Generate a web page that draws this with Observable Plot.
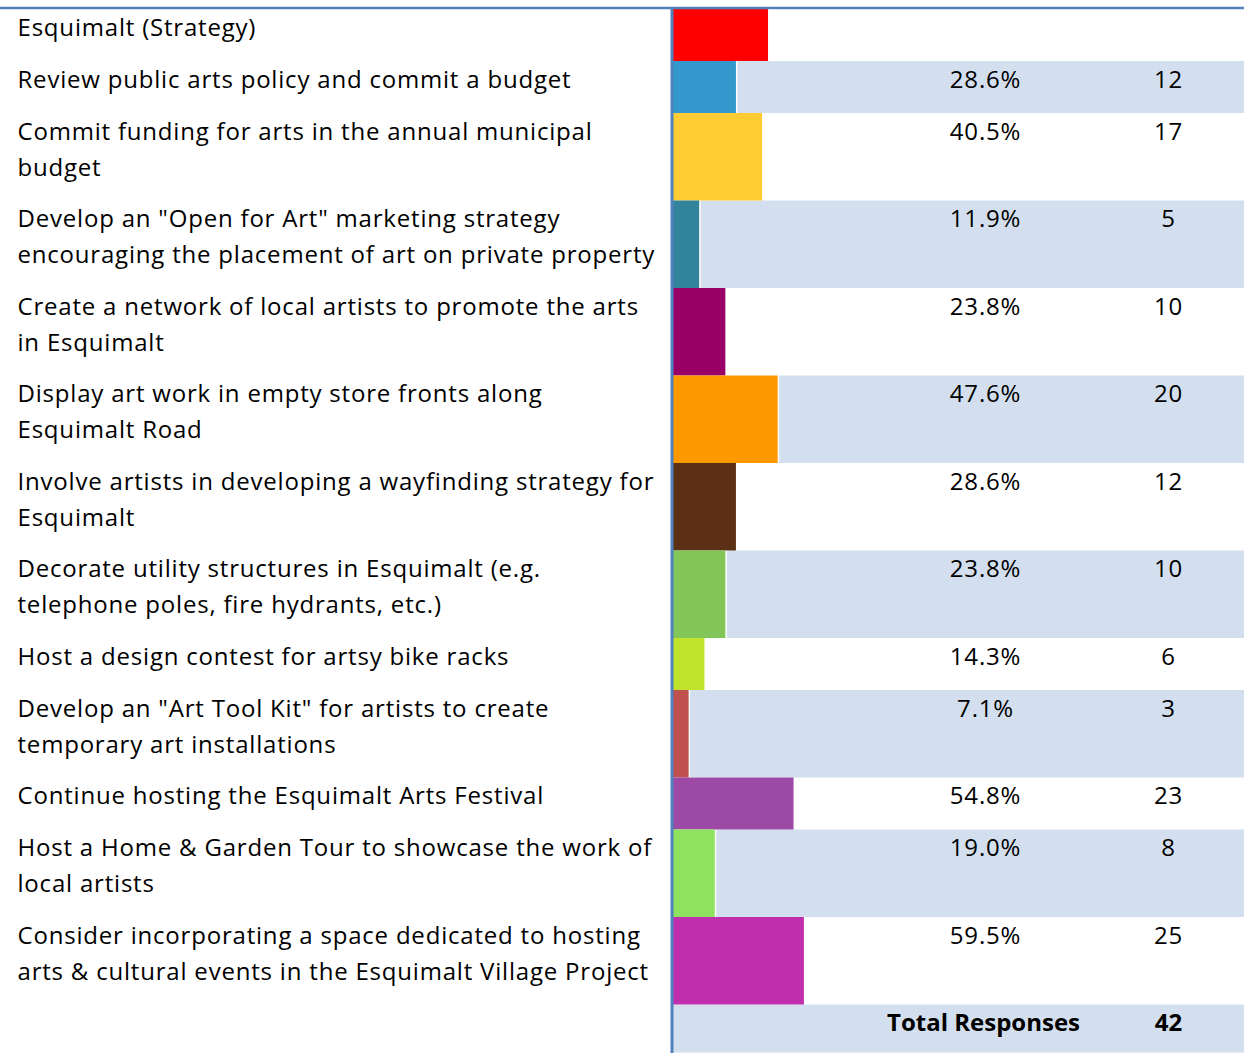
<!DOCTYPE html>
<html>
<head>
<meta charset="utf-8">
<script src="https://cdn.jsdelivr.net/npm/d3@7"></script>
<script src="https://cdn.jsdelivr.net/npm/@observablehq/plot@0.6"></script>
<style>
  html, body { margin: 0; padding: 0; background: #fff; }
  #chart svg { display: block; }
  #chart svg text { letter-spacing: 0.8px; }
  #chart svg g[font-weight="bold"] text, #chart svg text[font-weight="bold"] { letter-spacing: 0px; }
</style>
</head>
<body>
<div id="chart"></div>
<script>
// ---- data ----
const headerLabel = "Esquimalt (Strategy)";
const headerBar = 43.2;
const headerColor = "#FF0000";

const labels = [
  "Review public arts policy and commit a budget",
  "Commit funding for arts in the annual municipal\nbudget",
  "Develop an \"Open for Art\" marketing strategy\nencouraging the placement of art on private property",
  "Create a network of local artists to promote the arts\nin Esquimalt",
  "Display art work in empty store fronts along\nEsquimalt Road",
  "Involve artists in developing a wayfinding strategy for\nEsquimalt",
  "Decorate utility structures in Esquimalt (e.g.\ntelephone poles, fire hydrants, etc.)",
  "Host a design contest for artsy bike racks",
  "Develop an \"Art Tool Kit\" for artists to create\ntemporary art installations",
  "Continue hosting the Esquimalt Arts Festival",
  "Host a Home & Garden Tour to showcase the work of\nlocal artists",
  "Consider incorporating a space dedicated to hosting\narts & cultural events in the Esquimalt Village Project"
];
const percents = [28.6, 40.5, 11.9, 23.8, 47.6, 28.6, 23.8, 14.3, 7.1, 54.8, 19.0, 59.5];
const counts = [12, 17, 5, 10, 20, 12, 10, 6, 3, 23, 8, 25];
const colors = ["#3399CC", "#FFCC33", "#31849B", "#990066", "#FF9900", "#5C3014",
                "#82C65A", "#C0E42C", "#C0504D", "#9C4AA5", "#8DE35E", "#C02EAE"];
const totalLabel = "Total Responses";
const totalCount = 42;

// ---- layout (derived from label line counts) ----
const W = 1244, H = 1053;
const top0 = 9;
const rowH = n => 16.5 + 35.5 * n;
const totalRowH = 48;
const barStart = 673, pxPerPct = 2.2;
const xEnd = (W - barStart) / pxPerPct;

let cursor = top0;
const header = {label: headerLabel, value: headerBar, color: headerColor, y1: cursor, y2: cursor + rowH(1)};
cursor = header.y2;
const rows = labels.map((label, i) => {
  const n = label.split("\n").length;
  const r = {label, value: percents[i], pct: percents[i].toFixed(1) + "%", count: String(counts[i]),
             color: colors[i], band: i % 2 === 0, y1: cursor, y2: cursor + rowH(n)};
  cursor = r.y2;
  return r;
});
const totalRow = {label: totalLabel, count: String(totalCount), y1: cursor, y2: cursor + totalRowH};

const allBars = [header, ...rows];
const banded = rows.filter(r => r.band);

const fs = 24;
const textOpts = {frameAnchor: "left", lineAnchor: "top", fontSize: fs, lineHeight: 35.8 / fs, fill: "#000", dy: 1};

const chart = Plot.plot({
  width: W,
  height: H,
  margin: 0,
  style: {fontFamily: "'Open Sans', sans-serif", background: "#fff"},
  x: {domain: [0, 100], range: [barStart, barStart + 100 * pxPerPct], axis: null},
  y: {type: "identity", axis: null},
  marks: [
    // banding
    Plot.rect(banded, {x1: "value", x2: () => xEnd, y1: "y1", y2: "y2", fill: "#D3DFEE", insetLeft: 1.5}),
    Plot.rect([totalRow], {x1: () => 0, x2: () => xEnd, y1: "y1", y2: "y2", fill: "#D3DFEE"}),
    // bars
    Plot.rect(allBars, {x1: () => 0, x2: "value", y1: "y1", y2: "y2", fill: "color"}),
    // rules
    Plot.ruleX([0], {y1: top0 - 1, y2: H, stroke: "#4F81BD", strokeWidth: 3, dx: -1.5}),
    Plot.ruleY([top0 - 1.5], {stroke: "#4F81BD", strokeWidth: 2.5}),
    // texts
    Plot.text([header, ...rows], {...textOpts, y: "y1", text: "label", textAnchor: "start", dx: 17}),
    Plot.text(rows, {...textOpts, y: "y1", text: "pct", textAnchor: "middle", dx: 985}),
    Plot.text(rows, {...textOpts, y: "y1", text: "count", textAnchor: "middle", dx: 1168}),
    Plot.text([totalRow], {...textOpts, y: "y1", text: "label", textAnchor: "middle", dx: 983, fontWeight: "bold"}),
    Plot.text([totalRow], {...textOpts, y: "y1", text: "count", textAnchor: "middle", dx: 1168, fontWeight: "bold"})
  ]
});
document.getElementById("chart").appendChild(chart);
</script>
</body>
</html>
